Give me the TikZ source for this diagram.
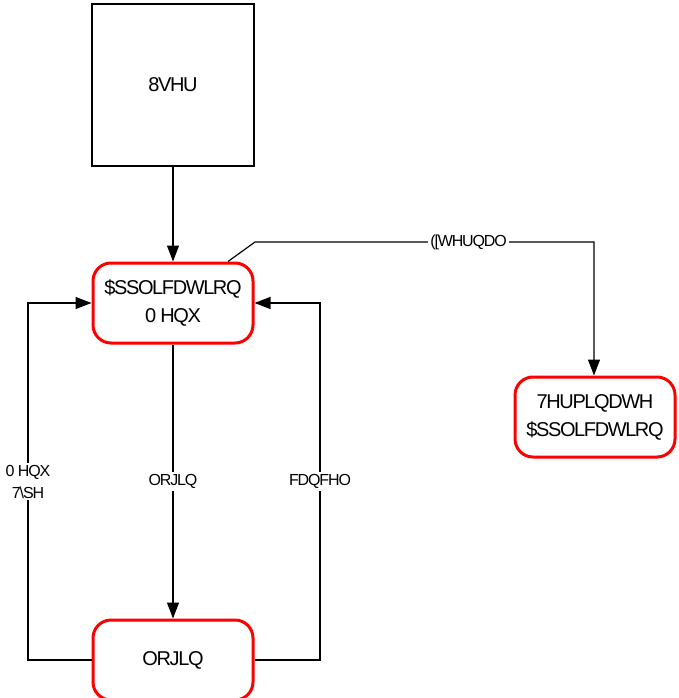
\documentclass[tikz,border=0pt]{standalone}
\usepackage{fontspec}
\setmainfont{Liberation Sans}
\newfontfamily\tightfont[LetterSpace=-7]{Liberation Sans}
\usetikzlibrary{arrows.meta,positioning}
\tikzset{
  plainbox/.style={draw=black,line width=1.3pt,minimum width=162pt,minimum height=162pt,inner sep=0pt,font=\tightfont\fontsize{20}{22}\selectfont},
  statebox/.style={draw=red,line width=3pt,rounded corners=18pt,minimum width=160pt,minimum height=80pt,inner sep=0pt,align=center,font=\tightfont\fontsize{20}{28}\selectfont},
  conn/.style={draw=black,line width=1.2pt,-{Triangle[length=16pt,width=12pt]}},
  lbl/.style={fill=white,inner sep=2pt,font=\tightfont\fontsize{16}{22}\selectfont,align=center}
}
\begin{document}
\begin{tikzpicture}[x=1pt,y=-1pt]
\useasboundingbox (0,0) rectangle (678,698);
\node[plainbox] (user) at (173,85) {8VHU};
\node[statebox] (menu) at (173,303) {\$SSOLFDWLRQ\\0 HQX};
\node[statebox] (term) at (595,417) {7HUPLQDWH\\\$SSOLFDWLRQ};
\node[statebox] (login) at (173,660) {ORJLQ};
\coordinate (ext1) at (255,242);
\coordinate (ext2) at (594,242);
\coordinate (l1) at (28,660);
\coordinate (l2) at (28,303);
\coordinate (r1) at (320,660);
\coordinate (r2) at (320,303);
\draw[conn] (user.south) -- (menu.north);
\draw[conn] ([xshift=55pt]menu.north) -- (ext1) -- node[lbl,pos=0.63]{([WHUQDO} (ext2) -- (term.north -| ext2);
\draw[conn] (menu.south) -- node[lbl,pos=0.5]{ORJLQ} (login.north);
\draw[conn] (login.west) -- (l1) -- node[lbl,pos=0.5]{0 HQX\\7\textbackslash SH} (l2) -- (menu.west);
\draw[conn] (login.east) -- (r1) -- node[lbl,pos=0.5]{FDQFHO} (r2) -- (menu.east);
\end{tikzpicture}
\end{document}
